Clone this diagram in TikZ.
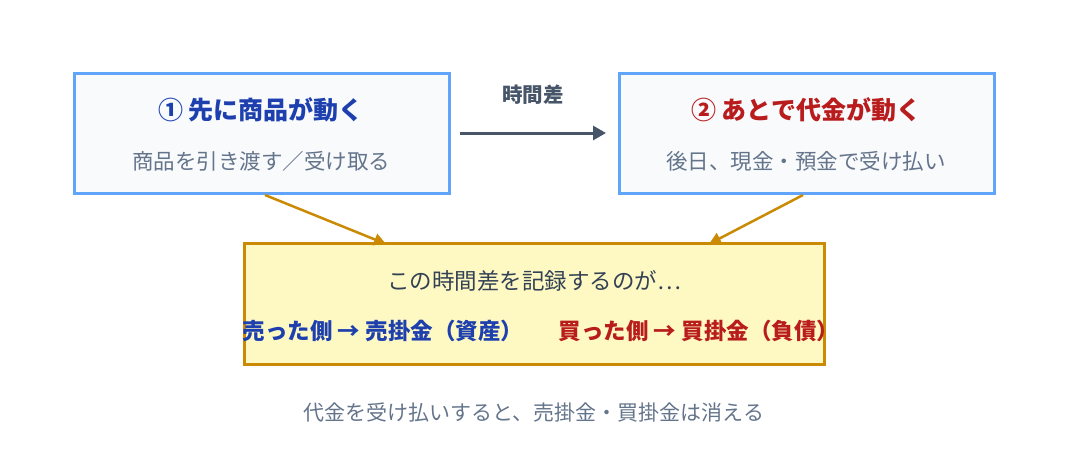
\documentclass[tikz,border=0pt]{standalone}
\usepackage{fontspec}
\setmainfont{Noto Sans CJK JP}
\usetikzlibrary{arrows.meta}
\definecolor{bbd}{HTML}{60A5FA}
\definecolor{bfill}{HTML}{F8FAFC}
\definecolor{ybd}{HTML}{CA8A04}
\definecolor{yfill}{HTML}{FEF9C3}
\definecolor{tblue}{HTML}{1E40AF}
\definecolor{tred}{HTML}{B91C1C}
\definecolor{tgray}{HTML}{64748B}
\definecolor{tdark}{HTML}{334155}
\definecolor{agray}{HTML}{475569}
\begin{document}
\begin{tikzpicture}[x=1pt,y=-1pt,
  box/.style={draw=bbd,fill=bfill,line width=3pt},
  ybox/.style={draw=ybd,fill=yfill,line width=3pt},
  ttl/.style={font=\fontsize{25}{28}\selectfont\bfseries},
  sub/.style={font=\fontsize{21.5}{24}\selectfont,text=tgray},
  oarr/.style={draw=ybd,line width=2.5pt,-{Triangle[length=12pt,width=12pt]}}]
\useasboundingbox (0,0) rectangle (1068,472);
\draw[box] (74,73) rectangle (449,193);
\draw[box] (619,73) rectangle (994,193);
\draw[ybox] (244,243) rectangle (824,364);
\node[ttl,text=tblue] (t1) at (261,110) {① 先に商品が動く};
\node[sub] (s1) at (261,161) {商品を引き渡す／受け取る};
\node[ttl,text=tred] (t2) at (806,110) {② あとで代金が動く};
\node[sub] (s2) at (806,161) {後日、現金・預金で受け払い};
\coordinate (a1) at (460,133); \coordinate (a2) at (606,133);
\draw[agray,line width=3pt,-{Triangle[length=13pt,width=14pt]}] (a1) -- (a2);
\node[font=\fontsize{20.5}{24}\selectfont\bfseries,text=agray] (lab) at (533,95) {時間差};
\coordinate (o1) at (265,195); \coordinate (o2) at (386,244);
\coordinate (o3) at (803,195); \coordinate (o4) at (709,244);
\draw[oarr] (o1) -- (o2);
\draw[oarr] (o3) -- (o4);
\node[font=\fontsize{22.5}{26}\selectfont,text=tdark] (y1) at (534,281) {この時間差を記録するのが…};
\node[font=\fontsize{22.5}{26}\selectfont\bfseries,text=tblue] (y2) at (383,331) {売った側 → 売掛金（資産）};
\node[font=\fontsize{22.5}{26}\selectfont\bfseries,text=tred] (y3) at (699,331) {買った側 → 買掛金（負債）};
\node[font=\fontsize{21}{24}\selectfont,text=tgray] (bt) at (534,413) {代金を受け払いすると、売掛金・買掛金は消える};
\end{tikzpicture}
\end{document}
